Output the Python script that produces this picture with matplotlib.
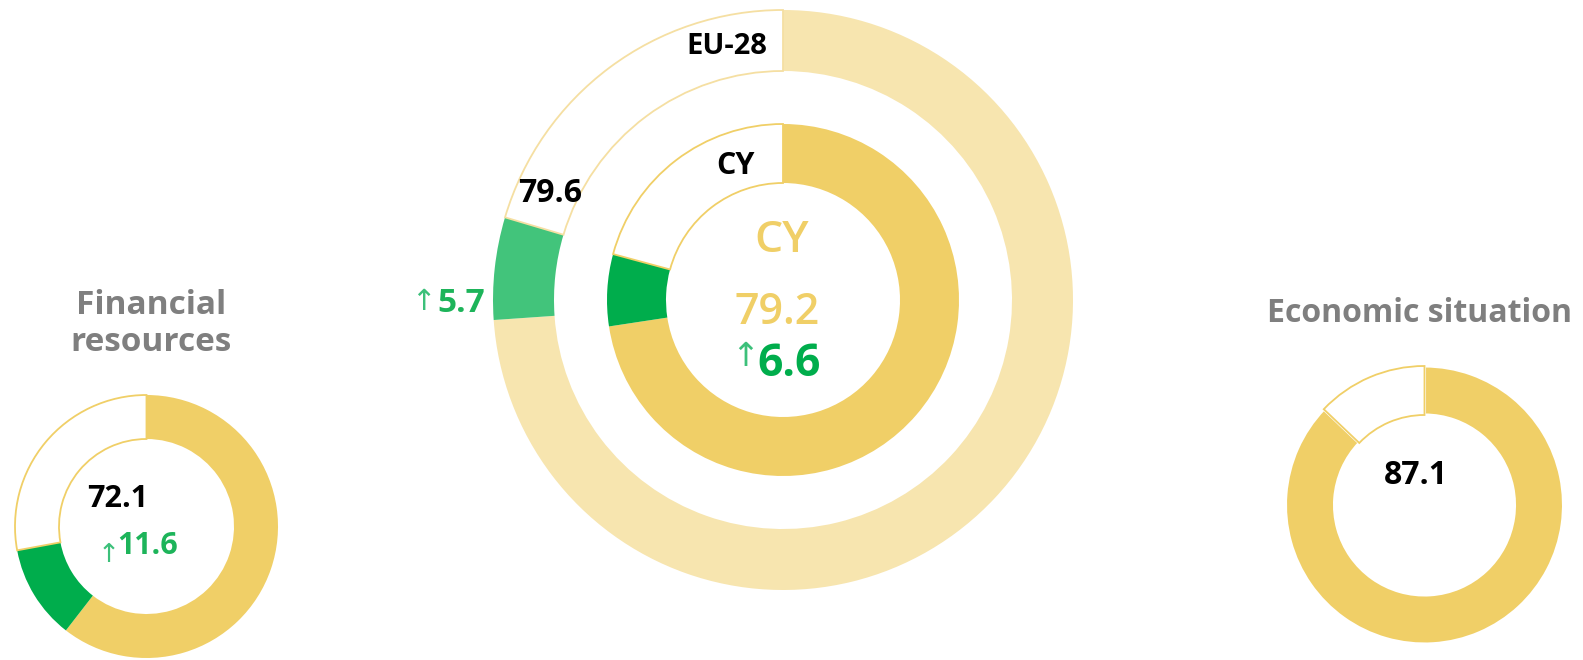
import matplotlib
matplotlib.use("Agg")
import matplotlib.pyplot as plt

# ---- data ----
fin_title = "Financial\nresources"
fin_score = 72.1
fin_change = 11.6

econ_title = "Economic situation"
econ_score = 87.1
econ_change = 0.0

cy_label = "CY"
cy_score = 79.2
cy_change = 6.6

eu_label = "EU-28"
eu_score = 79.6
eu_change = 5.7

# ---- style ----
YEL = "#F0CF67"
YEL_LIGHT = "#F7E5AF"
GREEN = "#00AD4C"
GREEN_LIGHT = "#42C47B"
GREEN_TXT = "#1DB45A"
ARROW = "#3CC07A"
GRAY = "#7F7F7F"
FONT = ["Open Sans", "DejaVu Sans"]

W, H = 1583, 660
fig = plt.figure(figsize=(W / 100, H / 100), dpi=100)
ax = fig.add_axes([0, 0, 1, 1])


def Y(y):
    return H - y


def ring(cx, cy, r, width, score, change, col, gcol, edge, gap=False):
    vals = [score - change, change, 100 - score]
    wedges, _ = ax.pie(vals, radius=r, center=(cx, Y(cy)), startangle=90,
                       counterclock=False, colors=[col, gcol, "white"],
                       wedgeprops=dict(width=width, linewidth=0))
    if gap:
        wedges[0].set_edgecolor("white")
        wedges[0].set_linewidth(2.2)
    wedges[2].set_edgecolor(edge)
    wedges[2].set_linewidth(1.3)
    return wedges


# left donut
ring(146.5, 526.5, 131.5, 44, fin_score, fin_change, YEL, GREEN, YEL)
# center donuts
ring(783, 300, 290, 61, eu_score, eu_change, YEL_LIGHT, GREEN_LIGHT, "#F5DFA2")
ring(783, 300, 176, 59, cy_score, cy_change, YEL, GREEN, YEL)
# right donut
ring(1424.5, 505, 139, 49, econ_score, econ_change, YEL, GREEN, YEL, gap=True)

ax.set_xlim(0, W)
ax.set_ylim(0, H)
ax.set_aspect("auto")
ax.axis("off")


def txt(x, y, s, size, color, weight="bold", ha="center", va="center", **kw):
    ax.text(x, Y(y), s, fontsize=size, color=color, fontweight=weight,
            ha=ha, va=va, family=FONT, **kw)


# titles
txt(151, 324, fin_title, 24, GRAY, linespacing=1.15)
txt(1420, 314, econ_title, 23, GRAY)

# left donut texts
txt(118, 499, f"{fin_score:.1f}", 22, "black")
txt(109, 556, "\u2191", 19, ARROW, weight="normal")
txt(148, 546, f"{fin_change:.1f}", 22, GREEN_TXT)

# center texts
txt(727, 46, eu_label, 21, "black")
txt(736, 166, cy_label, 22, "black")
txt(550, 193, f"{eu_score:.1f}", 23, "black")
txt(423, 303, "\u2191", 21, ARROW, weight="normal")
txt(461, 304, f"{eu_change:.1f}", 24, GREEN_TXT)

txt(782, 240, cy_label, 32, YEL, weight="semibold")
txt(777, 312, f"{cy_score:.1f}", 31, YEL, weight="semibold")
txt(745, 357, "\u2191", 24, ARROW, weight="normal")
txt(789, 364, f"{cy_change:.1f}", 32, GREEN)

# right donut text
txt(1416, 476, f"{econ_score:.1f}", 23, "black")

fig.savefig("out.png", dpi=100, facecolor="white")
